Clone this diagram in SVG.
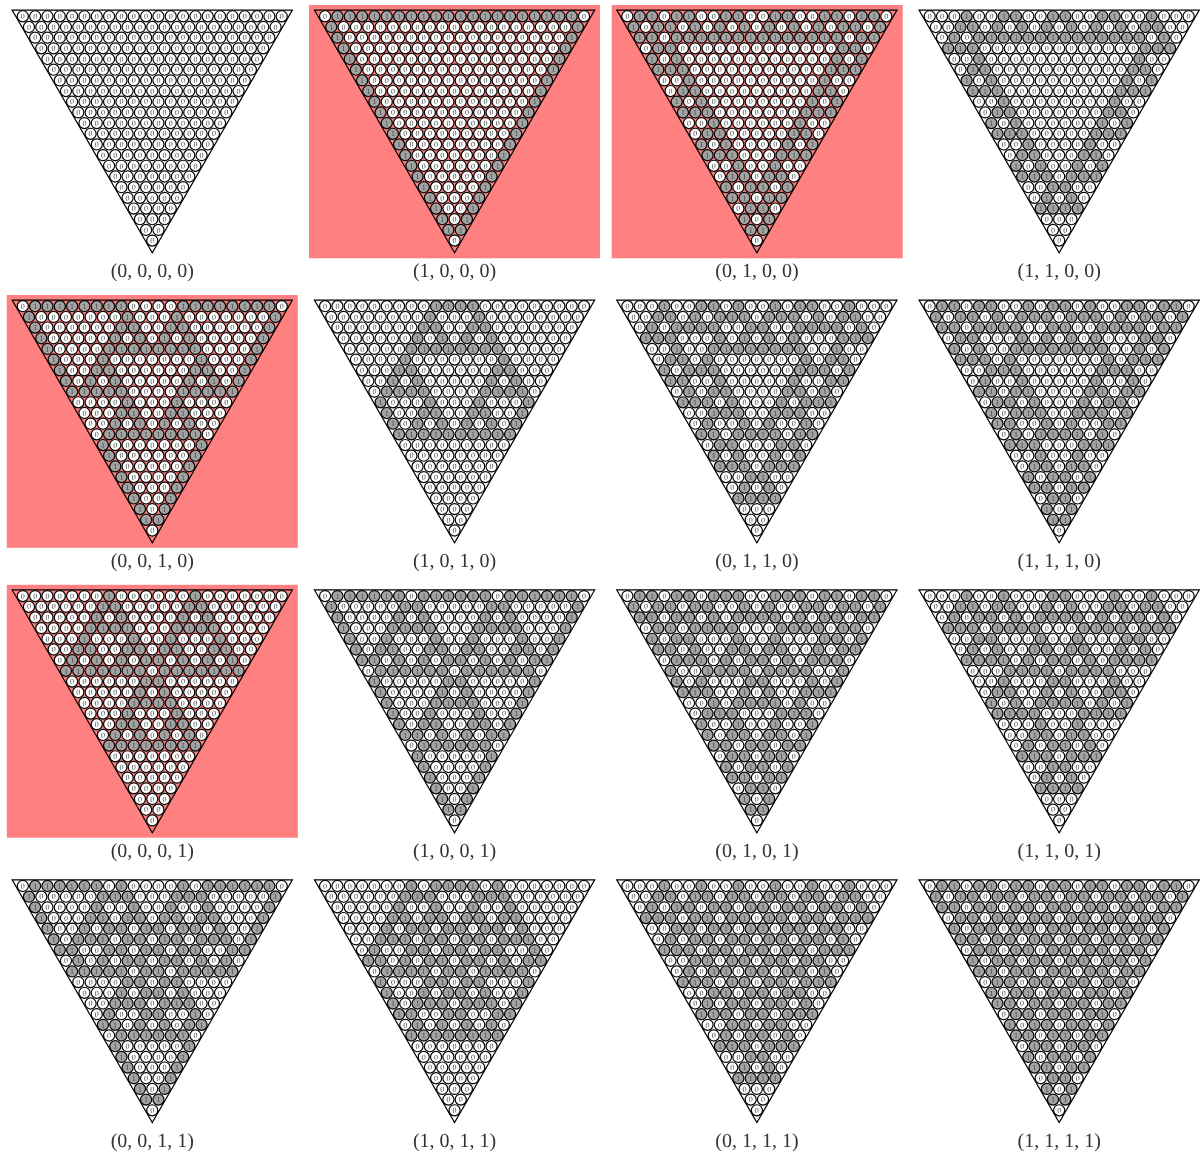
<svg xmlns="http://www.w3.org/2000/svg" width="1202" height="1158" viewBox="0 0 1202 1158">
<style>
circle{stroke:#000;stroke-width:1.2;fill:#fff}
.g{fill:#a3a3a3}
text{font-family:"Liberation Serif",serif;fill:#4a4a4a;text-rendering:geometricPrecision}
.t{filter:url(#f)}
.t>text{font-size:8px}
.t>text:last-child{font-size:20px;text-anchor:middle;fill:#333}
.h{fill:#ff8080}
defs>g>use:nth-child(2){transform:translate(12.33px,0)}
defs>g>use:nth-child(3){transform:translate(24.66px,0)}
defs>g>use:nth-child(4){transform:translate(36.99px,0)}
g>g>use:nth-child(2){transform:translate(49.32px,0)}
g>g>use:nth-child(3){transform:translate(98.64px,0)}
g>g>use:nth-child(4){transform:translate(147.96px,0)}
g>g>use:nth-child(5){transform:translate(197.28px,0)}
g>g>use:nth-child(6){transform:translate(246.6px,0)}
.t>g:nth-child(3),.s>g:nth-child(2){transform:translate(6.165px,10.68px)}
.t>g:nth-child(4),.s>g:nth-child(3){transform:translate(12.33px,21.36px)}
.t>g:nth-child(5),.s>g:nth-child(4){transform:translate(18.495px,32.04px)}
.t>g:nth-child(6),.s>g:nth-child(5){transform:translate(24.66px,42.72px)}
.t>g:nth-child(7),.s>g:nth-child(6){transform:translate(30.825px,53.4px)}
.t>g:nth-child(8),.s>g:nth-child(7){transform:translate(36.99px,64.08px)}
.t>g:nth-child(9){transform:translate(43.155px,74.76px)}
.t>g:nth-child(10){transform:translate(49.32px,85.44px)}
.t>g:nth-child(11){transform:translate(55.485px,96.12px)}
.t>g:nth-child(12){transform:translate(61.65px,106.8px)}
.t>g:nth-child(13){transform:translate(67.815px,117.48px)}
.t>g:nth-child(14){transform:translate(73.98px,128.16px)}
.t>g:nth-child(15){transform:translate(80.145px,138.84px)}
.t>g:nth-child(16){transform:translate(86.31px,149.52px)}
.t>use:nth-child(17){transform:translate(92.475px,160.2px)}
.t>text:nth-child(18){transform:translate(-2px,2.7px)}
.t>text:nth-child(19){transform:translate(4.165px,13.38px)}
.t>text:nth-child(20){transform:translate(10.33px,24.06px)}
.t>text:nth-child(21){transform:translate(16.495px,34.74px)}
.t>text:nth-child(22){transform:translate(22.66px,45.42px)}
.t>text:nth-child(23){transform:translate(28.825px,56.1px)}
.t>text:nth-child(24){transform:translate(34.99px,66.78px)}
.t>text:nth-child(25){transform:translate(41.155px,77.46px)}
.t>text:nth-child(26){transform:translate(47.32px,88.14px)}
.t>text:nth-child(27){transform:translate(53.485px,98.82px)}
.t>text:nth-child(28){transform:translate(59.65px,109.5px)}
.t>text:nth-child(29){transform:translate(65.815px,120.18px)}
.t>text:nth-child(30){transform:translate(71.98px,130.86px)}
.t>text:nth-child(31){transform:translate(78.145px,141.54px)}
.t>text:nth-child(32){transform:translate(84.31px,152.22px)}
.t>text:nth-child(33){transform:translate(90.475px,162.9px)}
.t>text:nth-child(34){transform:translate(96.64px,173.58px)}
.t>text:nth-child(35){transform:translate(102.805px,184.26px)}
.t>text:nth-child(36){transform:translate(108.97px,194.94px)}
.t>text:nth-child(37){transform:translate(115.135px,205.62px)}
.t>text:nth-child(38){transform:translate(121.3px,216.3px)}
.t>text:nth-child(39){transform:translate(127.465px,226.98px)}
</style>
<defs>
<filter id="f" color-interpolation-filters="sRGB" x="-5%" y="-5%" width="110%" height="110%"><feOffset dx="0" dy="0"/></filter>
<polygon id="v" fill="none" stroke="#000" stroke-width="1.2" points="-10.65,-6.15 269.58,-6.15 129.47,236.58"/>
<circle id="o" r="5.55"/>
<circle id="i" class="g" r="5.55"/>
<g id="n0"><use href="#o"/><use href="#o"/><use href="#o"/><use href="#o"/></g>
<g id="n1"><use href="#o"/><use href="#o"/><use href="#o"/><use href="#i"/></g>
<g id="n2"><use href="#o"/><use href="#o"/><use href="#i"/><use href="#o"/></g>
<g id="n3"><use href="#o"/><use href="#o"/><use href="#i"/><use href="#i"/></g>
<g id="n4"><use href="#o"/><use href="#i"/><use href="#o"/><use href="#o"/></g>
<g id="n5"><use href="#o"/><use href="#i"/><use href="#o"/><use href="#i"/></g>
<g id="n6"><use href="#o"/><use href="#i"/><use href="#i"/><use href="#o"/></g>
<g id="n7"><use href="#o"/><use href="#i"/><use href="#i"/><use href="#i"/></g>
<g id="n8"><use href="#i"/><use href="#o"/><use href="#o"/><use href="#o"/></g>
<g id="n9"><use href="#i"/><use href="#o"/><use href="#o"/><use href="#i"/></g>
<g id="nA"><use href="#i"/><use href="#o"/><use href="#i"/><use href="#o"/></g>
<g id="nB"><use href="#i"/><use href="#o"/><use href="#i"/><use href="#i"/></g>
<g id="nC"><use href="#i"/><use href="#i"/><use href="#o"/><use href="#o"/></g>
<g id="nD"><use href="#i"/><use href="#i"/><use href="#o"/><use href="#i"/></g>
<g id="nE"><use href="#i"/><use href="#i"/><use href="#i"/><use href="#o"/></g>
<g id="nF"><use href="#i"/><use href="#i"/><use href="#i"/><use href="#i"/></g>
<g id="p0"><use href="#o"/></g>
<g id="p1"><use href="#i"/></g>
<g id="p00"><use href="#o"/><use href="#o"/></g>
<g id="p01"><use href="#o"/><use href="#i"/></g>
<g id="p10"><use href="#i"/><use href="#o"/></g>
<g id="p11"><use href="#i"/><use href="#i"/></g>
<g id="p000"><use href="#o"/><use href="#o"/><use href="#o"/></g>
<g id="p001"><use href="#o"/><use href="#o"/><use href="#i"/></g>
<g id="p010"><use href="#o"/><use href="#i"/><use href="#o"/></g>
<g id="p011"><use href="#o"/><use href="#i"/><use href="#i"/></g>
<g id="p100"><use href="#i"/><use href="#o"/><use href="#o"/></g>
<g id="p101"><use href="#i"/><use href="#o"/><use href="#i"/></g>
<g id="p110"><use href="#i"/><use href="#i"/><use href="#o"/></g>
<g id="p111"><use href="#i"/><use href="#i"/><use href="#i"/></g>
<g id="zo" class="s"><g><use href="#n0"/><use href="#p000"/></g><g><use href="#n0"/><use href="#p00"/></g><g><use href="#n0"/><use href="#p0"/></g><g><use href="#n0"/></g><g><use href="#p000"/></g><g><use href="#p00"/></g><g><use href="#p0"/></g></g>
<g id="zx" class="s"><g><use href="#n8"/><use href="#p001"/></g><g><use href="#n8"/><use href="#p01"/></g><g><use href="#n8"/><use href="#p1"/></g><g><use href="#n9"/></g><g><use href="#p101"/></g><g><use href="#p11"/></g><g><use href="#p0"/></g></g>
<g id="zy" class="s"><g><use href="#n6"/><use href="#p110"/></g><g><use href="#nB"/><use href="#p01"/></g><g><use href="#nD"/><use href="#p1"/></g><g><use href="#n6"/></g><g><use href="#p101"/></g><g><use href="#p11"/></g><g><use href="#p0"/></g></g>
<g id="zz" class="s"><g><use href="#nE"/><use href="#p111"/></g><g><use href="#n3"/><use href="#p00"/></g><g><use href="#n5"/><use href="#p0"/></g><g><use href="#nF"/></g><g><use href="#p000"/></g><g><use href="#p00"/></g><g><use href="#p0"/></g></g>
</defs>
<g id="highlights">
<rect class="h" x="309" y="5" width="291" height="253.3"/>
<rect class="h" x="611.7" y="5" width="291" height="253.3"/>
<rect class="h" x="6.8" y="295" width="291" height="252.8"/>
<rect class="h" x="6.8" y="584.8" width="291" height="252.9"/>
</g>
<g id="t0000" class="t" transform="translate(22.8 16.3)"><use href="#v"/>
<g><use href="#n0"/><use href="#n0"/><use href="#n0"/><use href="#n0"/><use href="#n0"/><use href="#p00"/></g>
<g><use href="#n0"/><use href="#n0"/><use href="#n0"/><use href="#n0"/><use href="#n0"/><use href="#p0"/></g>
<g><use href="#n0"/><use href="#n0"/><use href="#n0"/><use href="#n0"/><use href="#n0"/></g>
<g><use href="#n0"/><use href="#n0"/><use href="#n0"/><use href="#n0"/><use href="#p000"/></g>
<g><use href="#n0"/><use href="#n0"/><use href="#n0"/><use href="#n0"/><use href="#p00"/></g>
<g><use href="#n0"/><use href="#n0"/><use href="#n0"/><use href="#n0"/><use href="#p0"/></g>
<g><use href="#n0"/><use href="#n0"/><use href="#n0"/><use href="#n0"/></g>
<g><use href="#n0"/><use href="#n0"/><use href="#n0"/><use href="#p000"/></g>
<g><use href="#n0"/><use href="#n0"/><use href="#n0"/><use href="#p00"/></g>
<g><use href="#n0"/><use href="#n0"/><use href="#n0"/><use href="#p0"/></g>
<g><use href="#n0"/><use href="#n0"/><use href="#n0"/></g>
<g><use href="#n0"/><use href="#n0"/><use href="#p000"/></g>
<g><use href="#n0"/><use href="#n0"/><use href="#p00"/></g>
<g><use href="#n0"/><use href="#n0"/><use href="#p0"/></g>
<g><use href="#n0"/><use href="#n0"/></g>
<use href="#zo"/>
<text textLength="262.93">0000000000000000000000</text><text textLength="250.6">000000000000000000000</text><text textLength="238.27">00000000000000000000</text><text textLength="225.94">0000000000000000000</text><text textLength="213.61">000000000000000000</text><text textLength="201.28">00000000000000000</text><text textLength="188.95">0000000000000000</text><text textLength="176.62">000000000000000</text><text textLength="164.29">00000000000000</text><text textLength="151.96">0000000000000</text><text textLength="139.63">000000000000</text><text textLength="127.3">00000000000</text><text textLength="114.97">0000000000</text><text textLength="102.64">000000000</text><text textLength="90.31">00000000</text><text textLength="77.98">0000000</text><text textLength="65.65">000000</text><text textLength="53.32">00000</text><text textLength="40.99">0000</text><text textLength="28.66">000</text><text textLength="16.33">00</text><text>0</text>
<text x="129.5" y="261.2">(0, 0, 0, 0)</text></g>
<g id="t1000" class="t" transform="translate(325.1 16.3)"><use href="#v"/>
<g><use href="#n7"/><use href="#nF"/><use href="#nF"/><use href="#nF"/><use href="#nF"/><use href="#p10"/></g>
<g><use href="#n8"/><use href="#n0"/><use href="#n0"/><use href="#n0"/><use href="#n0"/><use href="#p1"/></g>
<g><use href="#n8"/><use href="#n0"/><use href="#n0"/><use href="#n0"/><use href="#n1"/></g>
<g><use href="#n8"/><use href="#n0"/><use href="#n0"/><use href="#n0"/><use href="#p001"/></g>
<g><use href="#n8"/><use href="#n0"/><use href="#n0"/><use href="#n0"/><use href="#p01"/></g>
<g><use href="#n8"/><use href="#n0"/><use href="#n0"/><use href="#n0"/><use href="#p1"/></g>
<g><use href="#n8"/><use href="#n0"/><use href="#n0"/><use href="#n1"/></g>
<g><use href="#n8"/><use href="#n0"/><use href="#n0"/><use href="#p001"/></g>
<g><use href="#n8"/><use href="#n0"/><use href="#n0"/><use href="#p01"/></g>
<g><use href="#n8"/><use href="#n0"/><use href="#n0"/><use href="#p1"/></g>
<g><use href="#n8"/><use href="#n0"/><use href="#n1"/></g>
<g><use href="#n8"/><use href="#n0"/><use href="#p001"/></g>
<g><use href="#n8"/><use href="#n0"/><use href="#p01"/></g>
<g><use href="#n8"/><use href="#n0"/><use href="#p1"/></g>
<g><use href="#n8"/><use href="#n1"/></g>
<use href="#zx"/>
<text textLength="262.93">0111111111111111111110</text><text textLength="250.6">100000000000000000001</text><text textLength="238.27">10000000000000000001</text><text textLength="225.94">1000000000000000001</text><text textLength="213.61">100000000000000001</text><text textLength="201.28">10000000000000001</text><text textLength="188.95">1000000000000001</text><text textLength="176.62">100000000000001</text><text textLength="164.29">10000000000001</text><text textLength="151.96">1000000000001</text><text textLength="139.63">100000000001</text><text textLength="127.3">10000000001</text><text textLength="114.97">1000000001</text><text textLength="102.64">100000001</text><text textLength="90.31">10000001</text><text textLength="77.98">1000001</text><text textLength="65.65">100001</text><text textLength="53.32">10001</text><text textLength="40.99">1001</text><text textLength="28.66">101</text><text textLength="16.33">11</text><text>0</text>
<text x="129.5" y="261.2">(1, 0, 0, 0)</text></g>
<g id="t0100" class="t" transform="translate(627.4 16.3)"><use href="#v"/>
<g><use href="#n6"/><use href="#nC"/><use href="#nC"/><use href="#nC"/><use href="#nD"/><use href="#p10"/></g>
<g><use href="#nB"/><use href="#n5"/><use href="#n5"/><use href="#n5"/><use href="#n6"/><use href="#p1"/></g>
<g><use href="#nD"/><use href="#nF"/><use href="#nF"/><use href="#nF"/><use href="#nB"/></g>
<g><use href="#n6"/><use href="#n0"/><use href="#n0"/><use href="#n0"/><use href="#p110"/></g>
<g><use href="#nA"/><use href="#n0"/><use href="#n0"/><use href="#n1"/><use href="#p01"/></g>
<g><use href="#nE"/><use href="#n0"/><use href="#n0"/><use href="#n3"/><use href="#p1"/></g>
<g><use href="#n2"/><use href="#n0"/><use href="#n0"/><use href="#n4"/></g>
<g><use href="#n6"/><use href="#n0"/><use href="#n0"/><use href="#p110"/></g>
<g><use href="#nA"/><use href="#n0"/><use href="#n1"/><use href="#p01"/></g>
<g><use href="#nE"/><use href="#n0"/><use href="#n3"/><use href="#p1"/></g>
<g><use href="#n2"/><use href="#n0"/><use href="#n4"/></g>
<g><use href="#n6"/><use href="#n0"/><use href="#p110"/></g>
<g><use href="#nA"/><use href="#n1"/><use href="#p01"/></g>
<g><use href="#nE"/><use href="#n3"/><use href="#p1"/></g>
<g><use href="#n2"/><use href="#n4"/></g>
<use href="#zy"/>
<text textLength="262.93">0110110011001100110110</text><text textLength="250.6">101101010101010101101</text><text textLength="238.27">11011111111111111011</text><text textLength="225.94">0110000000000000110</text><text textLength="213.61">101000000000000101</text><text textLength="201.28">11100000000000111</text><text textLength="188.95">0010000000000100</text><text textLength="176.62">011000000000110</text><text textLength="164.29">10100000000101</text><text textLength="151.96">1110000000111</text><text textLength="139.63">001000000100</text><text textLength="127.3">01100000110</text><text textLength="114.97">1010000101</text><text textLength="102.64">111000111</text><text textLength="90.31">00100100</text><text textLength="77.98">0110110</text><text textLength="65.65">101101</text><text textLength="53.32">11011</text><text textLength="40.99">0110</text><text textLength="28.66">101</text><text textLength="16.33">11</text><text>0</text>
<text x="129.5" y="261.2">(0, 1, 0, 0)</text></g>
<g id="t1100" class="t" transform="translate(929.7 16.3)"><use href="#v"/>
<g><use href="#n1"/><use href="#n3"/><use href="#n3"/><use href="#n3"/><use href="#n2"/><use href="#p00"/></g>
<g><use href="#n3"/><use href="#n5"/><use href="#n5"/><use href="#n5"/><use href="#n6"/><use href="#p0"/></g>
<g><use href="#n5"/><use href="#nF"/><use href="#nF"/><use href="#nF"/><use href="#nA"/></g>
<g><use href="#nE"/><use href="#n0"/><use href="#n0"/><use href="#n0"/><use href="#p111"/></g>
<g><use href="#n2"/><use href="#n0"/><use href="#n0"/><use href="#n1"/><use href="#p00"/></g>
<g><use href="#n6"/><use href="#n0"/><use href="#n0"/><use href="#n3"/><use href="#p0"/></g>
<g><use href="#nA"/><use href="#n0"/><use href="#n0"/><use href="#n5"/></g>
<g><use href="#nE"/><use href="#n0"/><use href="#n0"/><use href="#p111"/></g>
<g><use href="#n2"/><use href="#n0"/><use href="#n1"/><use href="#p00"/></g>
<g><use href="#n6"/><use href="#n0"/><use href="#n3"/><use href="#p0"/></g>
<g><use href="#nA"/><use href="#n0"/><use href="#n5"/></g>
<g><use href="#nE"/><use href="#n0"/><use href="#p111"/></g>
<g><use href="#n2"/><use href="#n1"/><use href="#p00"/></g>
<g><use href="#n6"/><use href="#n3"/><use href="#p0"/></g>
<g><use href="#nA"/><use href="#n5"/></g>
<use href="#zz"/>
<text textLength="262.93">0001001100110011001000</text><text textLength="250.6">001101010101010101100</text><text textLength="238.27">01011111111111111010</text><text textLength="225.94">1110000000000000111</text><text textLength="213.61">001000000000000100</text><text textLength="201.28">01100000000000110</text><text textLength="188.95">1010000000000101</text><text textLength="176.62">111000000000111</text><text textLength="164.29">00100000000100</text><text textLength="151.96">0110000000110</text><text textLength="139.63">101000000101</text><text textLength="127.3">11100000111</text><text textLength="114.97">0010000100</text><text textLength="102.64">011000110</text><text textLength="90.31">10100101</text><text textLength="77.98">1110111</text><text textLength="65.65">001100</text><text textLength="53.32">01010</text><text textLength="40.99">1111</text><text textLength="28.66">000</text><text textLength="16.33">00</text><text>0</text>
<text x="129.5" y="261.2">(1, 1, 0, 0)</text></g>
<g id="t0010" class="t" transform="translate(22.8 306.2)"><use href="#v"/>
<g><use href="#n7"/><use href="#nF"/><use href="#n8"/><use href="#n7"/><use href="#nF"/><use href="#p10"/></g>
<g><use href="#n8"/><use href="#n0"/><use href="#n8"/><use href="#n8"/><use href="#n0"/><use href="#p1"/></g>
<g><use href="#n8"/><use href="#n1"/><use href="#n9"/><use href="#n8"/><use href="#n1"/></g>
<g><use href="#n8"/><use href="#n2"/><use href="#nA"/><use href="#n8"/><use href="#p001"/></g>
<g><use href="#n8"/><use href="#n7"/><use href="#nF"/><use href="#n8"/><use href="#p01"/></g>
<g><use href="#n8"/><use href="#n8"/><use href="#n0"/><use href="#n8"/><use href="#p1"/></g>
<g><use href="#n9"/><use href="#n8"/><use href="#n1"/><use href="#n9"/></g>
<g><use href="#nA"/><use href="#n8"/><use href="#n2"/><use href="#p101"/></g>
<g><use href="#nF"/><use href="#n8"/><use href="#n7"/><use href="#p11"/></g>
<g><use href="#n0"/><use href="#n8"/><use href="#n8"/><use href="#p0"/></g>
<g><use href="#n1"/><use href="#n9"/><use href="#n8"/></g>
<g><use href="#n2"/><use href="#nA"/><use href="#p100"/></g>
<g><use href="#n7"/><use href="#nF"/><use href="#p10"/></g>
<g><use href="#n8"/><use href="#n0"/><use href="#p1"/></g>
<g><use href="#n8"/><use href="#n1"/></g>
<use href="#zx"/>
<text textLength="262.93">0111111110000111111110</text><text textLength="250.6">100000001000100000001</text><text textLength="238.27">10000001100110000001</text><text textLength="225.94">1000001010101000001</text><text textLength="213.61">100001111111100001</text><text textLength="201.28">10001000000010001</text><text textLength="188.95">1001100000011001</text><text textLength="176.62">101010000010101</text><text textLength="164.29">11111000011111</text><text textLength="151.96">0000100010000</text><text textLength="139.63">000110011000</text><text textLength="127.3">00101010100</text><text textLength="114.97">0111111110</text><text textLength="102.64">100000001</text><text textLength="90.31">10000001</text><text textLength="77.98">1000001</text><text textLength="65.65">100001</text><text textLength="53.32">10001</text><text textLength="40.99">1001</text><text textLength="28.66">101</text><text textLength="16.33">11</text><text>0</text>
<text x="129.5" y="261.2">(0, 0, 1, 0)</text></g>
<g id="t1010" class="t" transform="translate(325.1 306.2)"><use href="#v"/>
<g><use href="#n0"/><use href="#n0"/><use href="#n7"/><use href="#n8"/><use href="#n0"/><use href="#p00"/></g>
<g><use href="#n0"/><use href="#n0"/><use href="#n8"/><use href="#n8"/><use href="#n0"/><use href="#p0"/></g>
<g><use href="#n0"/><use href="#n1"/><use href="#n9"/><use href="#n8"/><use href="#n0"/></g>
<g><use href="#n0"/><use href="#n2"/><use href="#nA"/><use href="#n8"/><use href="#p000"/></g>
<g><use href="#n0"/><use href="#n7"/><use href="#nF"/><use href="#n8"/><use href="#p00"/></g>
<g><use href="#n0"/><use href="#n8"/><use href="#n0"/><use href="#n8"/><use href="#p0"/></g>
<g><use href="#n1"/><use href="#n8"/><use href="#n1"/><use href="#n8"/></g>
<g><use href="#n2"/><use href="#n8"/><use href="#n2"/><use href="#p100"/></g>
<g><use href="#n7"/><use href="#n8"/><use href="#n7"/><use href="#p10"/></g>
<g><use href="#n8"/><use href="#n8"/><use href="#n8"/><use href="#p1"/></g>
<g><use href="#n9"/><use href="#n9"/><use href="#n9"/></g>
<g><use href="#nA"/><use href="#nA"/><use href="#p101"/></g>
<g><use href="#nF"/><use href="#nF"/><use href="#p11"/></g>
<g><use href="#n0"/><use href="#n0"/><use href="#p0"/></g>
<g><use href="#n0"/><use href="#n0"/></g>
<use href="#zo"/>
<text textLength="262.93">0000000001111000000000</text><text textLength="250.6">000000001000100000000</text><text textLength="238.27">00000001100110000000</text><text textLength="225.94">0000001010101000000</text><text textLength="213.61">000001111111100000</text><text textLength="201.28">00001000000010000</text><text textLength="188.95">0001100000011000</text><text textLength="176.62">001010000010100</text><text textLength="164.29">01111000011110</text><text textLength="151.96">1000100010001</text><text textLength="139.63">100110011001</text><text textLength="127.3">10101010101</text><text textLength="114.97">1111111111</text><text textLength="102.64">000000000</text><text textLength="90.31">00000000</text><text textLength="77.98">0000000</text><text textLength="65.65">000000</text><text textLength="53.32">00000</text><text textLength="40.99">0000</text><text textLength="28.66">000</text><text textLength="16.33">00</text><text>0</text>
<text x="129.5" y="261.2">(1, 0, 1, 0)</text></g>
<g id="t0110" class="t" transform="translate(627.4 306.2)"><use href="#v"/>
<g><use href="#n1"/><use href="#n3"/><use href="#n4"/><use href="#nB"/><use href="#n2"/><use href="#p00"/></g>
<g><use href="#n3"/><use href="#n5"/><use href="#nD"/><use href="#nD"/><use href="#n6"/><use href="#p0"/></g>
<g><use href="#n5"/><use href="#nE"/><use href="#n6"/><use href="#n7"/><use href="#nA"/></g>
<g><use href="#nE"/><use href="#n2"/><use href="#nA"/><use href="#n8"/><use href="#p111"/></g>
<g><use href="#n2"/><use href="#n7"/><use href="#nF"/><use href="#n9"/><use href="#p00"/></g>
<g><use href="#n6"/><use href="#n8"/><use href="#n0"/><use href="#nB"/><use href="#p0"/></g>
<g><use href="#nB"/><use href="#n8"/><use href="#n1"/><use href="#nD"/></g>
<g><use href="#nC"/><use href="#n8"/><use href="#n2"/><use href="#p011"/></g>
<g><use href="#n5"/><use href="#n8"/><use href="#n6"/><use href="#p10"/></g>
<g><use href="#nE"/><use href="#n8"/><use href="#nB"/><use href="#p1"/></g>
<g><use href="#n3"/><use href="#n9"/><use href="#nC"/></g>
<g><use href="#n4"/><use href="#nA"/><use href="#p010"/></g>
<g><use href="#nD"/><use href="#nE"/><use href="#p11"/></g>
<g><use href="#n6"/><use href="#n3"/><use href="#p0"/></g>
<g><use href="#nA"/><use href="#n5"/></g>
<use href="#zz"/>
<text textLength="262.93">0001001101001011001000</text><text textLength="250.6">001101011101110101100</text><text textLength="238.27">01011110011001111010</text><text textLength="225.94">1110001010101000111</text><text textLength="213.61">001001111111100100</text><text textLength="201.28">01101000000010110</text><text textLength="188.95">1011100000011101</text><text textLength="176.62">110010000010011</text><text textLength="164.29">01011000011010</text><text textLength="151.96">1110100010111</text><text textLength="139.63">001110011100</text><text textLength="127.3">01001010010</text><text textLength="114.97">1101111011</text><text textLength="102.64">011000110</text><text textLength="90.31">10100101</text><text textLength="77.98">1110111</text><text textLength="65.65">001100</text><text textLength="53.32">01010</text><text textLength="40.99">1111</text><text textLength="28.66">000</text><text textLength="16.33">00</text><text>0</text>
<text x="129.5" y="261.2">(0, 1, 1, 0)</text></g>
<g id="t1110" class="t" transform="translate(929.7 306.2)"><use href="#v"/>
<g><use href="#n6"/><use href="#nC"/><use href="#nB"/><use href="#n4"/><use href="#nD"/><use href="#p10"/></g>
<g><use href="#nB"/><use href="#n5"/><use href="#nD"/><use href="#nD"/><use href="#n6"/><use href="#p1"/></g>
<g><use href="#nD"/><use href="#nE"/><use href="#n6"/><use href="#n7"/><use href="#nB"/></g>
<g><use href="#n6"/><use href="#n2"/><use href="#nA"/><use href="#n8"/><use href="#p110"/></g>
<g><use href="#nA"/><use href="#n7"/><use href="#nF"/><use href="#n9"/><use href="#p01"/></g>
<g><use href="#nE"/><use href="#n8"/><use href="#n0"/><use href="#nB"/><use href="#p1"/></g>
<g><use href="#n3"/><use href="#n8"/><use href="#n1"/><use href="#nC"/></g>
<g><use href="#n4"/><use href="#n8"/><use href="#n2"/><use href="#p010"/></g>
<g><use href="#nD"/><use href="#n8"/><use href="#n6"/><use href="#p11"/></g>
<g><use href="#n6"/><use href="#n8"/><use href="#nB"/><use href="#p0"/></g>
<g><use href="#nB"/><use href="#n9"/><use href="#nD"/></g>
<g><use href="#nC"/><use href="#nA"/><use href="#p011"/></g>
<g><use href="#n5"/><use href="#nE"/><use href="#p10"/></g>
<g><use href="#nE"/><use href="#n3"/><use href="#p1"/></g>
<g><use href="#n2"/><use href="#n4"/></g>
<use href="#zy"/>
<text textLength="262.93">0110110010110100110110</text><text textLength="250.6">101101011101110101101</text><text textLength="238.27">11011110011001111011</text><text textLength="225.94">0110001010101000110</text><text textLength="213.61">101001111111100101</text><text textLength="201.28">11101000000010111</text><text textLength="188.95">0011100000011100</text><text textLength="176.62">010010000010010</text><text textLength="164.29">11011000011011</text><text textLength="151.96">0110100010110</text><text textLength="139.63">101110011101</text><text textLength="127.3">11001010011</text><text textLength="114.97">0101111010</text><text textLength="102.64">111000111</text><text textLength="90.31">00100100</text><text textLength="77.98">0110110</text><text textLength="65.65">101101</text><text textLength="53.32">11011</text><text textLength="40.99">0110</text><text textLength="28.66">101</text><text textLength="16.33">11</text><text>0</text>
<text x="129.5" y="261.2">(1, 1, 1, 0)</text></g>
<g id="t0001" class="t" transform="translate(22.8 596.1)"><use href="#v"/>
<g><use href="#n0"/><use href="#n1"/><use href="#n0"/><use href="#n2"/><use href="#n0"/><use href="#p00"/></g>
<g><use href="#n0"/><use href="#n3"/><use href="#n0"/><use href="#n6"/><use href="#n0"/><use href="#p0"/></g>
<g><use href="#n0"/><use href="#n5"/><use href="#n0"/><use href="#nA"/><use href="#n0"/></g>
<g><use href="#n0"/><use href="#nF"/><use href="#n1"/><use href="#nE"/><use href="#p000"/></g>
<g><use href="#n1"/><use href="#n1"/><use href="#n2"/><use href="#n2"/><use href="#p00"/></g>
<g><use href="#n3"/><use href="#n3"/><use href="#n6"/><use href="#n6"/><use href="#p0"/></g>
<g><use href="#n5"/><use href="#n5"/><use href="#nA"/><use href="#nA"/></g>
<g><use href="#nF"/><use href="#nE"/><use href="#nF"/><use href="#p111"/></g>
<g><use href="#n0"/><use href="#n3"/><use href="#n0"/><use href="#p00"/></g>
<g><use href="#n0"/><use href="#n5"/><use href="#n0"/><use href="#p0"/></g>
<g><use href="#n0"/><use href="#nF"/><use href="#n0"/></g>
<g><use href="#n1"/><use href="#n1"/><use href="#p000"/></g>
<g><use href="#n3"/><use href="#n3"/><use href="#p00"/></g>
<g><use href="#n5"/><use href="#n5"/><use href="#p0"/></g>
<g><use href="#nF"/><use href="#nF"/></g>
<use href="#zo"/>
<text textLength="262.93">0000000100000010000000</text><text textLength="250.6">000000110000011000000</text><text textLength="238.27">00000101000010100000</text><text textLength="225.94">0000111100011110000</text><text textLength="213.61">000100010010001000</text><text textLength="201.28">00110011011001100</text><text textLength="188.95">0101010110101010</text><text textLength="176.62">111111101111111</text><text textLength="164.29">00000011000000</text><text textLength="151.96">0000010100000</text><text textLength="139.63">000011110000</text><text textLength="127.3">00010001000</text><text textLength="114.97">0011001100</text><text textLength="102.64">010101010</text><text textLength="90.31">11111111</text><text textLength="77.98">0000000</text><text textLength="65.65">000000</text><text textLength="53.32">00000</text><text textLength="40.99">0000</text><text textLength="28.66">000</text><text textLength="16.33">00</text><text>0</text>
<text x="129.5" y="261.2">(0, 0, 0, 1)</text></g>
<g id="t1001" class="t" transform="translate(325.1 596.1)"><use href="#v"/>
<g><use href="#n7"/><use href="#nE"/><use href="#nF"/><use href="#nD"/><use href="#nF"/><use href="#p10"/></g>
<g><use href="#n8"/><use href="#n3"/><use href="#n0"/><use href="#n6"/><use href="#n0"/><use href="#p1"/></g>
<g><use href="#n8"/><use href="#n5"/><use href="#n0"/><use href="#nA"/><use href="#n1"/></g>
<g><use href="#n8"/><use href="#nF"/><use href="#n1"/><use href="#nE"/><use href="#p001"/></g>
<g><use href="#n9"/><use href="#n1"/><use href="#n2"/><use href="#n2"/><use href="#p01"/></g>
<g><use href="#nB"/><use href="#n3"/><use href="#n6"/><use href="#n6"/><use href="#p1"/></g>
<g><use href="#nD"/><use href="#n5"/><use href="#nA"/><use href="#nB"/></g>
<g><use href="#n7"/><use href="#nE"/><use href="#nF"/><use href="#p110"/></g>
<g><use href="#n8"/><use href="#n3"/><use href="#n0"/><use href="#p01"/></g>
<g><use href="#n8"/><use href="#n5"/><use href="#n0"/><use href="#p1"/></g>
<g><use href="#n8"/><use href="#nF"/><use href="#n1"/></g>
<g><use href="#n9"/><use href="#n1"/><use href="#p001"/></g>
<g><use href="#nB"/><use href="#n3"/><use href="#p01"/></g>
<g><use href="#nD"/><use href="#n5"/><use href="#p1"/></g>
<g><use href="#n7"/><use href="#nE"/></g>
<use href="#zx"/>
<text textLength="262.93">0111111011111101111110</text><text textLength="250.6">100000110000011000001</text><text textLength="238.27">10000101000010100001</text><text textLength="225.94">1000111100011110001</text><text textLength="213.61">100100010010001001</text><text textLength="201.28">10110011011001101</text><text textLength="188.95">1101010110101011</text><text textLength="176.62">011111101111110</text><text textLength="164.29">10000011000001</text><text textLength="151.96">1000010100001</text><text textLength="139.63">100011110001</text><text textLength="127.3">10010001001</text><text textLength="114.97">1011001101</text><text textLength="102.64">110101011</text><text textLength="90.31">01111110</text><text textLength="77.98">1000001</text><text textLength="65.65">100001</text><text textLength="53.32">10001</text><text textLength="40.99">1001</text><text textLength="28.66">101</text><text textLength="16.33">11</text><text>0</text>
<text x="129.5" y="261.2">(1, 0, 0, 1)</text></g>
<g id="t0101" class="t" transform="translate(627.4 596.1)"><use href="#v"/>
<g><use href="#n6"/><use href="#nD"/><use href="#nC"/><use href="#nE"/><use href="#nD"/><use href="#p10"/></g>
<g><use href="#nB"/><use href="#n6"/><use href="#n5"/><use href="#n3"/><use href="#n6"/><use href="#p1"/></g>
<g><use href="#nD"/><use href="#nA"/><use href="#nF"/><use href="#n5"/><use href="#nB"/></g>
<g><use href="#n6"/><use href="#nF"/><use href="#n1"/><use href="#nE"/><use href="#p110"/></g>
<g><use href="#nB"/><use href="#n1"/><use href="#n2"/><use href="#n3"/><use href="#p01"/></g>
<g><use href="#nD"/><use href="#n3"/><use href="#n6"/><use href="#n5"/><use href="#p1"/></g>
<g><use href="#n7"/><use href="#n5"/><use href="#nA"/><use href="#nE"/></g>
<g><use href="#n9"/><use href="#nE"/><use href="#nF"/><use href="#p001"/></g>
<g><use href="#nA"/><use href="#n3"/><use href="#n1"/><use href="#p01"/></g>
<g><use href="#nE"/><use href="#n5"/><use href="#n3"/><use href="#p1"/></g>
<g><use href="#n2"/><use href="#nF"/><use href="#n4"/></g>
<g><use href="#n7"/><use href="#n1"/><use href="#p110"/></g>
<g><use href="#n9"/><use href="#n2"/><use href="#p01"/></g>
<g><use href="#nB"/><use href="#n6"/><use href="#p1"/></g>
<g><use href="#nD"/><use href="#nB"/></g>
<use href="#zy"/>
<text textLength="262.93">0110110111001110110110</text><text textLength="250.6">101101100101001101101</text><text textLength="238.27">11011010111101011011</text><text textLength="225.94">0110111100011110110</text><text textLength="213.61">101100010010001101</text><text textLength="201.28">11010011011001011</text><text textLength="188.95">0111010110101110</text><text textLength="176.62">100111101111001</text><text textLength="164.29">10100011000101</text><text textLength="151.96">1110010100111</text><text textLength="139.63">001011110100</text><text textLength="127.3">01110001110</text><text textLength="114.97">1001001001</text><text textLength="102.64">101101101</text><text textLength="90.31">11011011</text><text textLength="77.98">0110110</text><text textLength="65.65">101101</text><text textLength="53.32">11011</text><text textLength="40.99">0110</text><text textLength="28.66">101</text><text textLength="16.33">11</text><text>0</text>
<text x="129.5" y="261.2">(0, 1, 0, 1)</text></g>
<g id="t1101" class="t" transform="translate(929.7 596.1)"><use href="#v"/>
<g><use href="#n1"/><use href="#n2"/><use href="#n3"/><use href="#n1"/><use href="#n2"/><use href="#p00"/></g>
<g><use href="#n3"/><use href="#n6"/><use href="#n5"/><use href="#n3"/><use href="#n6"/><use href="#p0"/></g>
<g><use href="#n5"/><use href="#nA"/><use href="#nF"/><use href="#n5"/><use href="#nA"/></g>
<g><use href="#nE"/><use href="#nF"/><use href="#n1"/><use href="#nE"/><use href="#p111"/></g>
<g><use href="#n3"/><use href="#n1"/><use href="#n2"/><use href="#n3"/><use href="#p00"/></g>
<g><use href="#n5"/><use href="#n3"/><use href="#n6"/><use href="#n5"/><use href="#p0"/></g>
<g><use href="#nF"/><use href="#n5"/><use href="#nA"/><use href="#nF"/></g>
<g><use href="#n1"/><use href="#nE"/><use href="#nF"/><use href="#p000"/></g>
<g><use href="#n2"/><use href="#n3"/><use href="#n1"/><use href="#p00"/></g>
<g><use href="#n6"/><use href="#n5"/><use href="#n3"/><use href="#p0"/></g>
<g><use href="#nA"/><use href="#nF"/><use href="#n5"/></g>
<g><use href="#nF"/><use href="#n1"/><use href="#p111"/></g>
<g><use href="#n1"/><use href="#n2"/><use href="#p00"/></g>
<g><use href="#n3"/><use href="#n6"/><use href="#p0"/></g>
<g><use href="#n5"/><use href="#nA"/></g>
<use href="#zz"/>
<text textLength="262.93">0001001000110001001000</text><text textLength="250.6">001101100101001101100</text><text textLength="238.27">01011010111101011010</text><text textLength="225.94">1110111100011110111</text><text textLength="213.61">001100010010001100</text><text textLength="201.28">01010011011001010</text><text textLength="188.95">1111010110101111</text><text textLength="176.62">000111101111000</text><text textLength="164.29">00100011000100</text><text textLength="151.96">0110010100110</text><text textLength="139.63">101011110101</text><text textLength="127.3">11110001111</text><text textLength="114.97">0001001000</text><text textLength="102.64">001101100</text><text textLength="90.31">01011010</text><text textLength="77.98">1110111</text><text textLength="65.65">001100</text><text textLength="53.32">01010</text><text textLength="40.99">1111</text><text textLength="28.66">000</text><text textLength="16.33">00</text><text>0</text>
<text x="129.5" y="261.2">(1, 1, 0, 1)</text></g>
<g id="t0011" class="t" transform="translate(22.8 886)"><use href="#v"/>
<g><use href="#n7"/><use href="#nE"/><use href="#n8"/><use href="#n5"/><use href="#nF"/><use href="#p10"/></g>
<g><use href="#n8"/><use href="#n3"/><use href="#n8"/><use href="#nE"/><use href="#n0"/><use href="#p1"/></g>
<g><use href="#n8"/><use href="#n4"/><use href="#n9"/><use href="#n2"/><use href="#n1"/></g>
<g><use href="#n8"/><use href="#nD"/><use href="#nB"/><use href="#n6"/><use href="#p001"/></g>
<g><use href="#n9"/><use href="#n6"/><use href="#nD"/><use href="#nA"/><use href="#p01"/></g>
<g><use href="#nB"/><use href="#nB"/><use href="#n6"/><use href="#nE"/><use href="#p1"/></g>
<g><use href="#nC"/><use href="#nD"/><use href="#nB"/><use href="#n3"/></g>
<g><use href="#n5"/><use href="#n6"/><use href="#nD"/><use href="#p010"/></g>
<g><use href="#nF"/><use href="#nB"/><use href="#n7"/><use href="#p11"/></g>
<g><use href="#n0"/><use href="#nD"/><use href="#n8"/><use href="#p0"/></g>
<g><use href="#n1"/><use href="#n6"/><use href="#n8"/></g>
<g><use href="#n3"/><use href="#nB"/><use href="#p100"/></g>
<g><use href="#n4"/><use href="#nC"/><use href="#p10"/></g>
<g><use href="#nD"/><use href="#n5"/><use href="#p1"/></g>
<g><use href="#n7"/><use href="#nE"/></g>
<use href="#zx"/>
<text textLength="262.93">0111111010000101111110</text><text textLength="250.6">100000111000111000001</text><text textLength="238.27">10000100100100100001</text><text textLength="225.94">1000110110110110001</text><text textLength="213.61">100101101101101001</text><text textLength="201.28">10111011011011101</text><text textLength="188.95">1100110110110011</text><text textLength="176.62">010101101101010</text><text textLength="164.29">11111011011111</text><text textLength="151.96">0000110110000</text><text textLength="139.63">000101101000</text><text textLength="127.3">00111011100</text><text textLength="114.97">0100110010</text><text textLength="102.64">110101011</text><text textLength="90.31">01111110</text><text textLength="77.98">1000001</text><text textLength="65.65">100001</text><text textLength="53.32">10001</text><text textLength="40.99">1001</text><text textLength="28.66">101</text><text textLength="16.33">11</text><text>0</text>
<text x="129.5" y="261.2">(0, 0, 1, 1)</text></g>
<g id="t1011" class="t" transform="translate(325.1 886)"><use href="#v"/>
<g><use href="#n0"/><use href="#n1"/><use href="#n7"/><use href="#nA"/><use href="#n0"/><use href="#p00"/></g>
<g><use href="#n0"/><use href="#n3"/><use href="#n8"/><use href="#nE"/><use href="#n0"/><use href="#p0"/></g>
<g><use href="#n0"/><use href="#n4"/><use href="#n9"/><use href="#n2"/><use href="#n0"/></g>
<g><use href="#n0"/><use href="#nD"/><use href="#nB"/><use href="#n6"/><use href="#p000"/></g>
<g><use href="#n1"/><use href="#n6"/><use href="#nD"/><use href="#nA"/><use href="#p00"/></g>
<g><use href="#n3"/><use href="#nB"/><use href="#n6"/><use href="#nE"/><use href="#p0"/></g>
<g><use href="#n4"/><use href="#nD"/><use href="#nB"/><use href="#n2"/></g>
<g><use href="#nD"/><use href="#n6"/><use href="#nD"/><use href="#p011"/></g>
<g><use href="#n7"/><use href="#nB"/><use href="#n7"/><use href="#p10"/></g>
<g><use href="#n8"/><use href="#nD"/><use href="#n8"/><use href="#p1"/></g>
<g><use href="#n9"/><use href="#n6"/><use href="#n9"/></g>
<g><use href="#nB"/><use href="#nB"/><use href="#p101"/></g>
<g><use href="#nC"/><use href="#nC"/><use href="#p11"/></g>
<g><use href="#n5"/><use href="#n5"/><use href="#p0"/></g>
<g><use href="#nF"/><use href="#nF"/></g>
<use href="#zo"/>
<text textLength="262.93">0000000101111010000000</text><text textLength="250.6">000000111000111000000</text><text textLength="238.27">00000100100100100000</text><text textLength="225.94">0000110110110110000</text><text textLength="213.61">000101101101101000</text><text textLength="201.28">00111011011011100</text><text textLength="188.95">0100110110110010</text><text textLength="176.62">110101101101011</text><text textLength="164.29">01111011011110</text><text textLength="151.96">1000110110001</text><text textLength="139.63">100101101001</text><text textLength="127.3">10111011101</text><text textLength="114.97">1100110011</text><text textLength="102.64">010101010</text><text textLength="90.31">11111111</text><text textLength="77.98">0000000</text><text textLength="65.65">000000</text><text textLength="53.32">00000</text><text textLength="40.99">0000</text><text textLength="28.66">000</text><text textLength="16.33">00</text><text>0</text>
<text x="129.5" y="261.2">(1, 0, 1, 1)</text></g>
<g id="t0111" class="t" transform="translate(627.4 886)"><use href="#v"/>
<g><use href="#n1"/><use href="#n2"/><use href="#n4"/><use href="#n9"/><use href="#n2"/><use href="#p00"/></g>
<g><use href="#n3"/><use href="#n6"/><use href="#nD"/><use href="#nB"/><use href="#n6"/><use href="#p0"/></g>
<g><use href="#n5"/><use href="#nB"/><use href="#n6"/><use href="#nD"/><use href="#nA"/></g>
<g><use href="#nE"/><use href="#nD"/><use href="#nB"/><use href="#n6"/><use href="#p111"/></g>
<g><use href="#n3"/><use href="#n6"/><use href="#nD"/><use href="#nB"/><use href="#p00"/></g>
<g><use href="#n5"/><use href="#nB"/><use href="#n6"/><use href="#nD"/><use href="#p0"/></g>
<g><use href="#nE"/><use href="#nD"/><use href="#nB"/><use href="#n7"/></g>
<g><use href="#n3"/><use href="#n6"/><use href="#nD"/><use href="#p100"/></g>
<g><use href="#n5"/><use href="#nB"/><use href="#n6"/><use href="#p10"/></g>
<g><use href="#nE"/><use href="#nD"/><use href="#nB"/><use href="#p1"/></g>
<g><use href="#n3"/><use href="#n6"/><use href="#nC"/></g>
<g><use href="#n5"/><use href="#nB"/><use href="#p010"/></g>
<g><use href="#nE"/><use href="#nD"/><use href="#p11"/></g>
<g><use href="#n3"/><use href="#n6"/><use href="#p0"/></g>
<g><use href="#n5"/><use href="#nA"/></g>
<use href="#zz"/>
<text textLength="262.93">0001001001001001001000</text><text textLength="250.6">001101101101101101100</text><text textLength="238.27">01011011011011011010</text><text textLength="225.94">1110110110110110111</text><text textLength="213.61">001101101101101100</text><text textLength="201.28">01011011011011010</text><text textLength="188.95">1110110110110111</text><text textLength="176.62">001101101101100</text><text textLength="164.29">01011011011010</text><text textLength="151.96">1110110110111</text><text textLength="139.63">001101101100</text><text textLength="127.3">01011011010</text><text textLength="114.97">1110110111</text><text textLength="102.64">001101100</text><text textLength="90.31">01011010</text><text textLength="77.98">1110111</text><text textLength="65.65">001100</text><text textLength="53.32">01010</text><text textLength="40.99">1111</text><text textLength="28.66">000</text><text textLength="16.33">00</text><text>0</text>
<text x="129.5" y="261.2">(0, 1, 1, 1)</text></g>
<g id="t1111" class="t" transform="translate(929.7 886)"><use href="#v"/>
<g><use href="#n6"/><use href="#nD"/><use href="#nB"/><use href="#n6"/><use href="#nD"/><use href="#p10"/></g>
<g><use href="#nB"/><use href="#n6"/><use href="#nD"/><use href="#nB"/><use href="#n6"/><use href="#p1"/></g>
<g><use href="#nD"/><use href="#nB"/><use href="#n6"/><use href="#nD"/><use href="#nB"/></g>
<g><use href="#n6"/><use href="#nD"/><use href="#nB"/><use href="#n6"/><use href="#p110"/></g>
<g><use href="#nB"/><use href="#n6"/><use href="#nD"/><use href="#nB"/><use href="#p01"/></g>
<g><use href="#nD"/><use href="#nB"/><use href="#n6"/><use href="#nD"/><use href="#p1"/></g>
<g><use href="#n6"/><use href="#nD"/><use href="#nB"/><use href="#n6"/></g>
<g><use href="#nB"/><use href="#n6"/><use href="#nD"/><use href="#p101"/></g>
<g><use href="#nD"/><use href="#nB"/><use href="#n6"/><use href="#p11"/></g>
<g><use href="#n6"/><use href="#nD"/><use href="#nB"/><use href="#p0"/></g>
<g><use href="#nB"/><use href="#n6"/><use href="#nD"/></g>
<g><use href="#nD"/><use href="#nB"/><use href="#p011"/></g>
<g><use href="#n6"/><use href="#nD"/><use href="#p10"/></g>
<g><use href="#nB"/><use href="#n6"/><use href="#p1"/></g>
<g><use href="#nD"/><use href="#nB"/></g>
<use href="#zy"/>
<text textLength="262.93">0110110110110110110110</text><text textLength="250.6">101101101101101101101</text><text textLength="238.27">11011011011011011011</text><text textLength="225.94">0110110110110110110</text><text textLength="213.61">101101101101101101</text><text textLength="201.28">11011011011011011</text><text textLength="188.95">0110110110110110</text><text textLength="176.62">101101101101101</text><text textLength="164.29">11011011011011</text><text textLength="151.96">0110110110110</text><text textLength="139.63">101101101101</text><text textLength="127.3">11011011011</text><text textLength="114.97">0110110110</text><text textLength="102.64">101101101</text><text textLength="90.31">11011011</text><text textLength="77.98">0110110</text><text textLength="65.65">101101</text><text textLength="53.32">11011</text><text textLength="40.99">0110</text><text textLength="28.66">101</text><text textLength="16.33">11</text><text>0</text>
<text x="129.5" y="261.2">(1, 1, 1, 1)</text></g>
</svg>
